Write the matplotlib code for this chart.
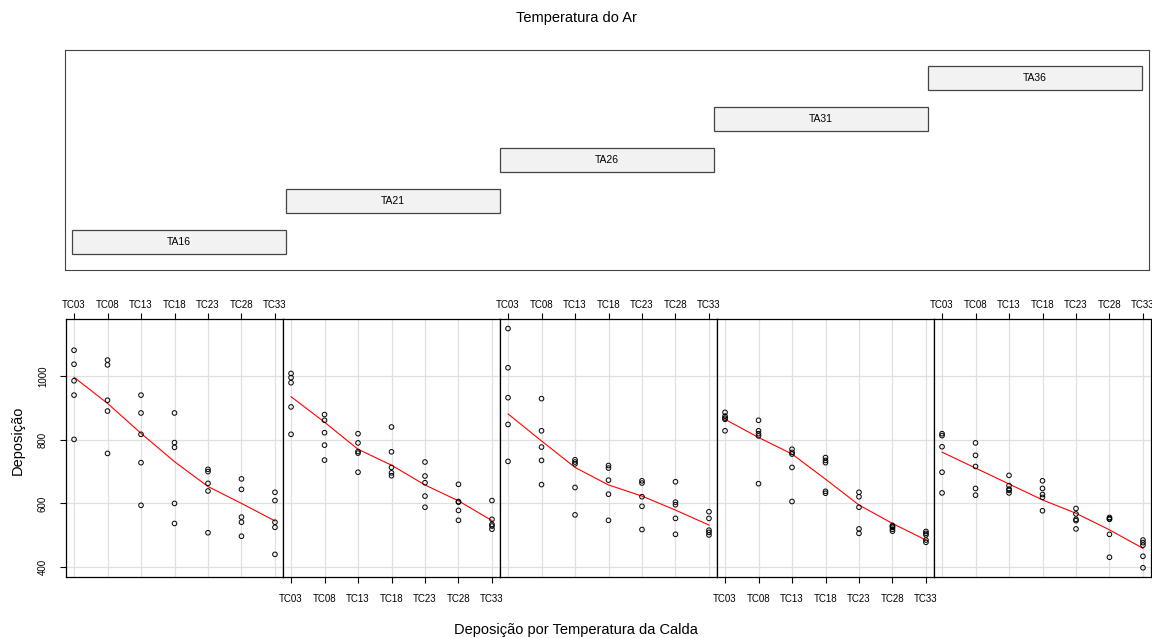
import matplotlib
matplotlib.use("Agg")
import matplotlib.pyplot as plt
import numpy as np

plt.rcParams['font.family'] = ['Liberation Sans', 'DejaVu Sans']

# niveis da temperatura da calda (eixo x) e da temperatura do ar (condicionante)
calda = ["TC03", "TC08", "TC13", "TC18", "TC23", "TC28", "TC33"]
ar = ["TA16", "TA21", "TA26", "TA31", "TA36"]

# deposicao observada, uma lista por nivel de calda
dep_ta16 = [[1081, 1037, 985, 940, 801],
            [1050, 1035, 924, 890, 757],
            [940, 884, 817, 728, 594],
            [884, 791, 776, 600, 537],
            [707, 700, 663, 639, 508],
            [677, 644, 557, 541, 497],
            [635, 609, 541, 525, 440]]
dep_ta21 = [[1008, 995, 979, 903, 817],
            [879, 861, 822, 783, 736],
            [819, 790, 763, 758, 698],
            [840, 762, 713, 696, 687],
            [730, 686, 665, 623, 588],
            [660, 606, 604, 578, 547],
            [609, 550, 534, 529, 519]]
dep_ta26 = [[1149, 1026, 932, 848, 732],
            [929, 828, 777, 735, 659],
            [737, 730, 724, 650, 564],
            [719, 711, 673, 629, 547],
            [671, 664, 621, 591, 518],
            [668, 604, 596, 553, 503],
            [574, 553, 516, 509, 501]]
dep_ta31 = [[886, 874, 868, 864, 828],
            [861, 828, 819, 812, 662],
            [770, 760, 755, 713, 606],
            [744, 735, 728, 638, 632],
            [635, 621, 588, 520, 506],
            [531, 528, 525, 519, 513],
            [512, 506, 501, 485, 478]]
dep_ta36 = [[819, 813, 778, 698, 633],
            [790, 751, 716, 647, 626],
            [688, 656, 645, 641, 633],
            [671, 647, 628, 619, 577],
            [584, 567, 550, 546, 520],
            [556, 552, 550, 503, 431],
            [485, 477, 469, 434, 398]]

# curva suavizada (lowess) em cada painel
suave_ta16 = [996, 914, 820, 731, 653, 600, 545]
suave_ta21 = [935, 855, 770, 720, 658, 608, 546]
suave_ta26 = [881, 796, 713, 658, 623, 579, 532]
suave_ta31 = [864, 807, 755, 676, 595, 537, 485]
suave_ta36 = [761, 711, 661, 611, 569, 517, 459]

paineis = [dep_ta16, dep_ta21, dep_ta26, dep_ta31, dep_ta36]
curvas = [suave_ta16, suave_ta21, suave_ta26, suave_ta31, suave_ta36]

W, H = 1152, 638
fig = plt.figure(figsize=(W / 100, H / 100), dpi=100)


def px(x0, y0, x1, y1):
    return [x0 / W, 1 - y1 / H, (x1 - x0) / W, (y1 - y0) / H]


# painel superior com os intervalos da temperatura do ar
axg = fig.add_axes(px(65, 50, 1149, 270))
axg.set_xlim(-0.033, 5.033)
axg.set_ylim(-0.683, 4.683)
for i, nome in enumerate(ar):
    axg.barh(i, 1, left=i, height=0.6, color='#f2f2f2',
             edgecolor='#444444', linewidth=0.9)
    axg.text(i + 0.5, i, nome, ha='center', va='center', fontsize=7.5)
axg.set_xticks([])
axg.set_yticks([])
for s in axg.spines.values():
    s.set_color('#444444')
fig.text(0.5, 1 - 18 / H, "Temperatura do Ar", ha='center', va='center',
         fontsize=10.5)

# paineis de dispersao
x = np.arange(1, len(calda) + 1)
left = 66
pw = 217
for k, (dados, curva) in enumerate(zip(paineis, curvas)):
    ax = fig.add_axes(px(left + k * pw, 319, left + (k + 1) * pw, 577))
    ax.set_xlim(0.76, 7.24)
    ax.set_ylim(369, 1179)
    for xi in x:
        ax.axvline(xi, color='#e0e0e0', lw=0.9, zorder=0)
    for yi in [400, 600, 800, 1000]:
        ax.axhline(yi, color='#e0e0e0', lw=0.9, zorder=0)
    for j, vals in enumerate(dados):
        ax.scatter([x[j]] * len(vals), vals, s=11, facecolors='none',
                   edgecolors='black', linewidths=0.7, zorder=3)
    ax.plot(x, curva, color='red', lw=0.8, zorder=2)
    for s in ax.spines.values():
        s.set_linewidth(0.9)
    ax.set_xticks(x)
    ax.set_xticklabels(calda, fontsize=7)
    if k % 2 == 0:
        ax.tick_params(axis='x', top=True, labeltop=True, bottom=False,
                       labelbottom=False, length=4.5, width=0.8, pad=2)
    else:
        ax.tick_params(axis='x', length=4.5, width=0.8, pad=8)
    if k == 0:
        ax.set_yticks([400, 600, 800, 1000])
        ax.set_yticklabels(['400', '600', '800', '1000'], fontsize=7,
                           rotation=90, va='center')
        ax.tick_params(axis='y', length=4, width=0.8, pad=9)
    else:
        ax.set_yticks([])

fig.text(18 / W, 1 - 440 / H, "Deposição", rotation=90, ha='center',
         va='center', fontsize=10.5)
fig.text(0.5, 1 - 630 / H, "Deposição por Temperatura da Calda",
         ha='center', va='center', fontsize=10.5)

fig.savefig("out.png", dpi=100)
